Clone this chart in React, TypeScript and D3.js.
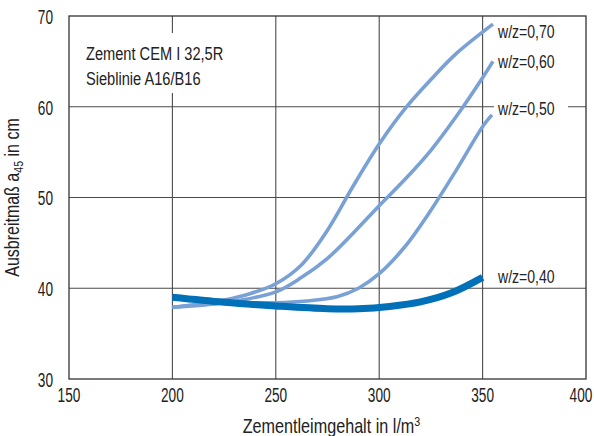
import React from "react";
import * as d3 from "d3";

// Zementleimgehalt (l/m³) vs. Ausbreitmaß a45 (cm) for several w/z ratios
const wz070: [number, number][] = [
  [200, 37.9], [212, 38.2], [225, 38.7], [237.5, 39.4], [250, 40.5], [262.5, 42.6],
  [275, 46.4], [287.5, 51.3], [300, 55.9], [312.5, 59.8], [325, 63.0], [337.5, 65.9], [355, 69.1],
];
const wz060: [number, number][] = [
  [200, 37.9], [225, 38.4], [250, 39.6], [262.5, 41.2], [275, 43.3], [287.5, 46.1],
  [300, 49.1], [312.5, 52.0], [325, 55.2], [337.5, 59.0], [350, 63.2], [355, 65.0],
];
const wz050: [number, number][] = [
  [200, 37.9], [225, 38.4], [250, 38.4], [265, 38.6], [280, 39.1], [290, 40.0],
  [300, 41.6], [312.5, 44.6], [325, 48.6], [337.5, 53.1], [350.3, 57.9], [354.5, 59.1],
];
const wz040: [number, number][] = [
  [200, 39.0], [225, 38.45], [250, 38.05], [275, 37.75], [290, 37.75], [305, 38.0],
  [320, 38.5], [335, 39.5], [350, 41.2],
];

const xTicks = [150, 200, 250, 300, 350, 400];
const yTicks = [30, 40, 50, 60, 70];
const seriesLabels = ["w/z=0,70", "w/z=0,60", "w/z=0,50", "w/z=0,40"];
const noteLines = ["Zement CEM I 32,5R", "Sieblinie A16/B16"];

const W = 594;
const H = 436;
const left = 69;
const right = 586;
const top = 16;
const bottom = 379;

const FONT = "'Liberation Sans', Arial, sans-serif";
const LIGHT = "#79a1d6";
const DARK = "#0070b8";
const GRID = "#4a4a4a";
const INK = "#222";

// Text in a horizontally condensed cut
function T({
  x,
  y,
  size,
  sx = 0.74,
  anchor = "start",
  rotate = 0,
  children,
}: {
  x: number;
  y: number;
  size: number;
  sx?: number;
  anchor?: string;
  rotate?: number;
  children: React.ReactNode;
}) {
  return (
    <text
      transform={`translate(${x},${y}) rotate(${rotate}) scale(${sx},1)`}
      fontSize={size}
      textAnchor={anchor}
      fill={INK}
    >
      {children}
    </text>
  );
}

export default function App() {
  const x = d3.scaleLinear().domain([150, 400]).range([left, right]);
  const y = d3.scaleLinear().domain([30, 70]).range([bottom, top]);
  const line = d3
    .line<[number, number]>()
    .x((d) => x(d[0]))
    .y((d) => y(d[1]))
    .curve(d3.curveCatmullRom.alpha(0.5));

  const lightSeries = [wz070, wz060, wz050];
  const labelBaselines = [38, 68, 115, 283];
  const tickHalf = 12; // half width of a three-digit tick label

  return (
    <svg
      width={W}
      height={H}
      style={{ position: "absolute", left: 0, top: 0, background: "#fff" }}
      fontFamily={FONT}
    >
      {/* grid */}
      {xTicks.slice(1, -1).map((t) => (
        <line key={"vx" + t} x1={x(t)} x2={x(t)} y1={top} y2={bottom} stroke={GRID} strokeWidth={1.1} />
      ))}
      {yTicks.slice(1, -1).map((t) => (
        <line key={"hy" + t} x1={left} x2={right} y1={y(t)} y2={y(t)} stroke={GRID} strokeWidth={1.1} />
      ))}
      {/* frame */}
      <rect x={left} y={top} width={right - left} height={bottom - top} fill="none" stroke="#333" strokeWidth={1.3} />

      {/* note box */}
      <rect x={80} y={33} width={154} height={60} fill="#fff" />
      {noteLines.map((t, i) => (
        <T key={t} x={86} y={60 + i * 24.5} size={19} sx={0.77}>
          {t}
        </T>
      ))}

      {/* curves */}
      {lightSeries.map((s, i) => (
        <path key={i} d={line(s) || ""} fill="none" stroke={LIGHT} strokeWidth={3.6} />
      ))}
      <path d={line(wz040) || ""} fill="none" stroke={DARK} strokeWidth={7} />

      {/* series labels */}
      <rect x={494} y={98} width={74} height={22} fill="#fff" />
      {seriesLabels.map((t, i) => (
        <T key={t} x={498} y={labelBaselines[i]} size={19}>
          {t}
        </T>
      ))}

      {/* x tick labels, kept inside the drawing */}
      {xTicks.map((t) => (
        <T key={"xl" + t} x={Math.min(x(t), W - 1 - tickHalf)} y={402} size={19.5} sx={0.7} anchor="middle">
          {t}
        </T>
      ))}
      {/* y tick labels */}
      {yTicks.map((t) => (
        <T key={"yl" + t} x={53} y={y(t) + 7.8} size={19.5} sx={0.7} anchor="end">
          {t}
        </T>
      ))}

      {/* axis titles */}
      <T x={(left + right) / 2 + 4} y={433} size={19.5} sx={0.83} anchor="middle">
        Zementleimgehalt in l/m<tspan dy={-7} fontSize={13}>3</tspan>
      </T>
      <T x={18.5} y={(top + bottom) / 2} size={19.5} sx={0.82} anchor="middle" rotate={-90}>
        Ausbreitmaß a<tspan dy={4} fontSize={13}>45</tspan>
        <tspan dy={-4}> in cm</tspan>
      </T>
    </svg>
  );
}
